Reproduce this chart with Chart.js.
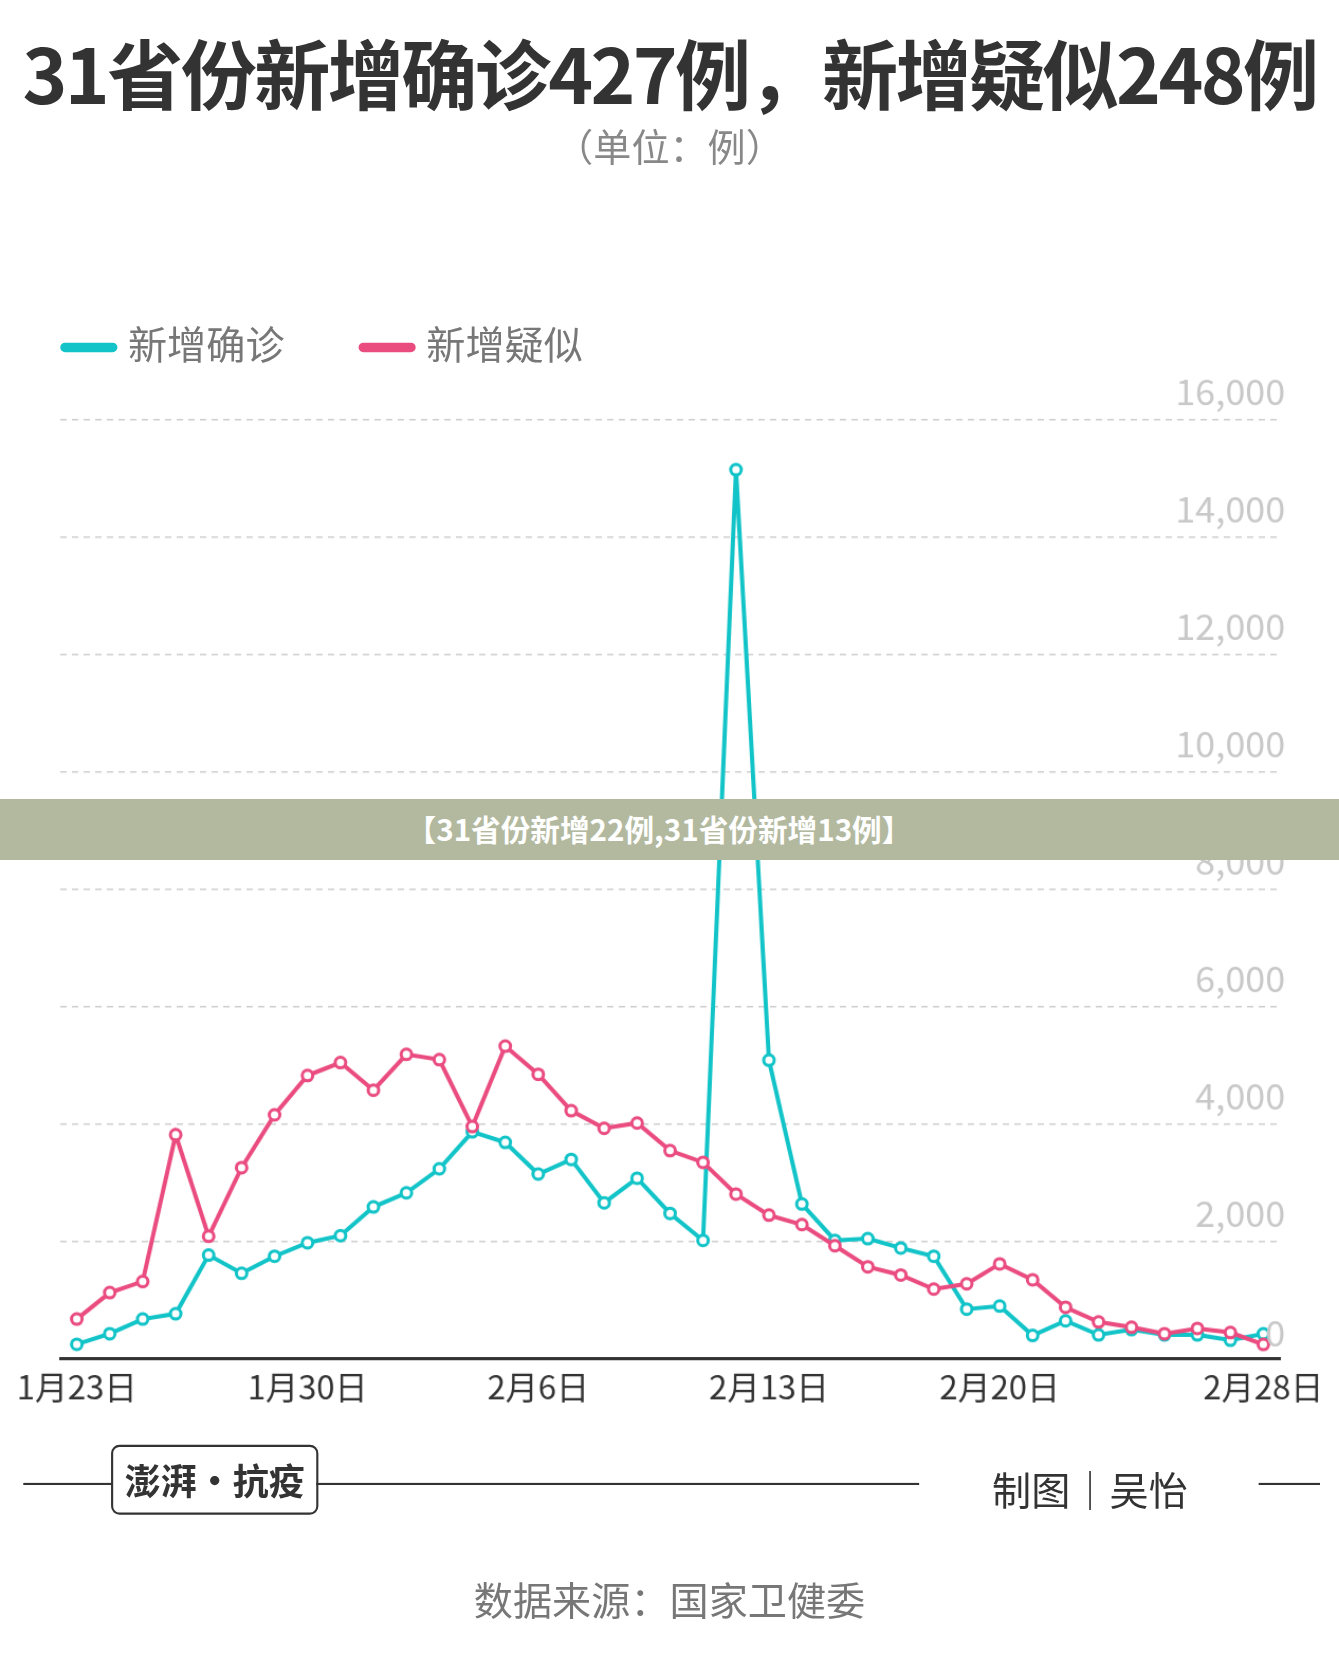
<!DOCTYPE html>
<html><head><meta charset="utf-8">
<script src="https://cdn.jsdelivr.net/npm/chart.js@4"></script>
<style>
html,body{margin:0;background:#fff;font-family:"Noto Sans CJK SC",sans-serif}
#wrap{width:1339px;height:1659px;overflow:hidden;position:relative}
#page{position:absolute;left:0;top:0;width:1266px;height:1568px;transform:scale(1.0577);transform-origin:0 0;color:#333}
.abs{position:absolute;white-space:nowrap}
</style></head><body>
<div id="wrap"><div id="page">
  <div class="abs" style="left:0;width:1266px;top:14px;text-align:center;font-size:72px;font-weight:bold;letter-spacing:-2.5px;color:#333">31省份新增确诊427例，新增疑似248例</div>
  <div class="abs" style="left:0;width:1266px;top:110px;text-align:center;font-size:36px;color:#888">（单位：例）</div>
  <div class="abs" style="left:57px;top:296px;font-size:37px;color:#777"><span style="display:inline-block;width:54px;height:9px;border-radius:5px;background:#12c4c8;vertical-align:middle;margin-right:10px"></span>新增确诊<span style="display:inline-block;width:54px;height:9px;border-radius:5px;background:#ea4c80;vertical-align:middle;margin:0 10px 0 70px"></span>新增疑似</div>
  <canvas id="c" class="abs" style="left:0;top:340px"></canvas>
  <div class="abs" style="left:0;top:755px;width:1266px;height:57px;background:#b3b99f;color:#fff;font-weight:bold;font-size:28px;line-height:57px;text-align:center;padding-right:20px;box-sizing:border-box">【31省份新增22例,31省份新增13例】</div>
  <div class="abs" style="left:22px;top:1402px;width:84px;border-top:2px solid #333"></div>
  <div class="abs" style="left:105px;top:1366px;width:192px;height:62px;border:2px solid #333;border-radius:8px;font-size:34px;font-weight:bold;line-height:62px;text-align:center">澎湃·抗疫</div>
  <div class="abs" style="left:299px;top:1402px;width:570px;border-top:2px solid #333"></div>
  <div class="abs" style="left:938px;top:1380px;font-size:37px;color:#333">制图｜吴怡</div>
  <div class="abs" style="left:1190px;top:1402px;width:58px;border-top:2px solid #333"></div>
  <div class="abs" style="left:0;width:1266px;top:1486px;line-height:50px;text-align:center;font-size:37px;color:#777">数据来源：国家卫健委</div>
</div></div>
<script>
const dates = ['1月23日','1月24日','1月25日','1月26日','1月27日','1月28日','1月29日','1月30日','1月31日',
  '2月1日','2月2日','2月3日','2月4日','2月5日','2月6日','2月7日','2月8日','2月9日','2月10日','2月11日',
  '2月12日','2月13日','2月14日','2月15日','2月16日','2月17日','2月18日','2月19日','2月20日','2月21日',
  '2月22日','2月23日','2月24日','2月25日','2月26日','2月27日','2月28日']
const confirmed = [250,430,680,770,1770,1460,1750,1980,2100,2590,2830,3240,3870,3690,3150,3400,2660,3080,2480,2020,
  15152,5090,2640,2020,2050,1890,1750,850,900,400,650,410,500,410,410,320,427]
const suspected = [680,1130,1320,3820,2090,3260,4160,4830,5050,4580,5190,5100,3960,5330,4850,4230,3930,4020,3550,3350,
  2810,2450,2290,1930,1570,1430,1190,1280,1620,1350,880,630,540,430,520,450,248]
const shownDates = [0, 7, 14, 21, 28, 36]
const yTicks = [0, 2000, 4000, 6000, 8000, 10000, 12000, 14000, 16000]

const yLabels = {
  id: 'yLabels',
  afterDraw(chart) {
    const ctx = chart.ctx, y = chart.scales.y
    ctx.save()
    ctx.font = '34px "Noto Sans CJK SC"'
    ctx.fillStyle = '#c8c8c8'
    ctx.textAlign = 'right'
    ctx.textBaseline = 'bottom'
    yTicks.forEach(v => ctx.fillText(v.toLocaleString('en-US'), 1215, y.getPixelForValue(v) - (v === 0 ? 8 : 10)))
    ctx.restore()
  }
}

function line(label, data, color) {
  return {label, data, borderColor: color, borderWidth: 4, pointRadius: 5, pointBorderWidth: 3,
    pointBackgroundColor: '#fff', pointBorderColor: color, tension: 0}
}

const canvas = document.getElementById('c')
canvas.width = 1266; canvas.height = 998
canvas.style.width = '1266px'; canvas.style.height = '998px'
new Chart(canvas, {
  type: 'line',
  data: {labels: dates, datasets: [line('新增疑似', suspected, '#ea4c80'), line('新增确诊', confirmed, '#12c4c8')]},
  options: {
    responsive: false, animation: false,
    layout: {padding: {left: 57, right: 56, top: 57, bottom: 0}},
    plugins: {legend: {display: false}, tooltip: {enabled: false}},
    scales: {
      x: {offset: true, grid: {display: false, drawTicks: false},
        border: {color: '#333', width: 3},
        ticks: {autoSkip: false, maxRotation: 0, padding: 8, color: '#333',
          font: {size: 31, family: 'Noto Sans CJK SC'},
          callback: (v, i) => shownDates.includes(i) ? dates[i] : ''}},
      y: {min: 0, max: 16000, position: 'right',
        afterFit: s => { s.width = 0 },
        ticks: {stepSize: 2000, display: false},
        border: {display: false, dash: [6, 5]},
        grid: {color: '#cfcfcf', lineWidth: 1.5, drawTicks: false, tickLength: 0}}
    }
  },
  plugins: [yLabels]
})
</script>
</body></html>
